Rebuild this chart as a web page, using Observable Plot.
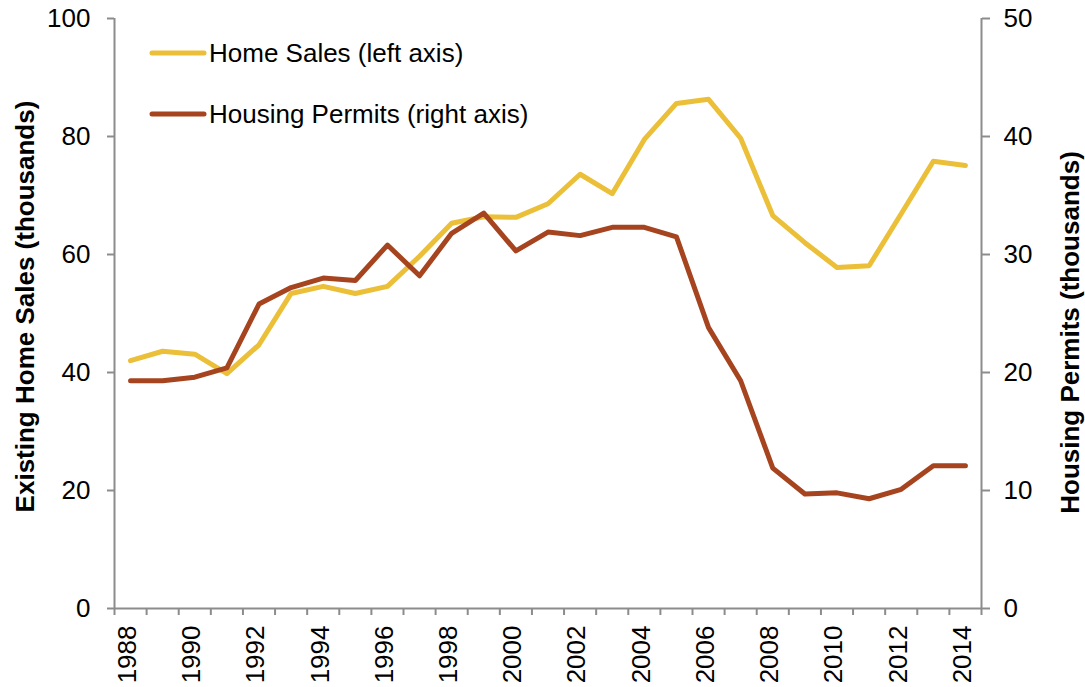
<!DOCTYPE html>
<html>
<head>
<meta charset="utf-8">
<script src="https://cdn.jsdelivr.net/npm/d3@7"></script>
<script src="https://cdn.jsdelivr.net/npm/@observablehq/plot@0.6"></script>
<style>
  html, body { margin: 0; padding: 0; background: #fff; }
  #wrap { position: relative; width: 1085px; height: 687px; font-family: "Liberation Sans", Arial, sans-serif; }
  #legend { position: absolute; left: 0; top: 0; pointer-events: none; }
</style>
</head>
<body>
<div id="wrap"></div>
<script>
// ---- Data ----
const years = [1988,1989,1990,1991,1992,1993,1994,1995,1996,1997,1998,1999,2000,2001,2002,2003,2004,2005,2006,2007,2008,2009,2010,2011,2012,2013,2014];
const homeSales = [42.0,43.6,43.1,39.8,44.7,53.4,54.6,53.4,54.6,59.7,65.3,66.4,66.3,68.6,73.6,70.3,79.5,85.6,86.3,79.7,66.6,62.0,57.8,58.1,66.9,75.8,75.1];
const housingPermits = [19.3,19.3,19.6,20.4,25.8,27.2,28.0,27.8,30.8,28.2,31.8,33.5,30.3,31.9,31.6,32.3,32.3,31.5,23.8,19.3,11.9,9.7,9.8,9.3,10.1,12.1,12.1];
const leftTicks = [0,20,40,60,80,100];
const rightTicks = [0,10,20,30,40,50];
const labelYears = [1988,1990,1992,1994,1996,1998,2000,2002,2004,2006,2008,2010,2012,2014];
const seriesNames = ["Home Sales (left axis)", "Housing Permits (right axis)"];
const seriesColors = ["#EBBF38", "#A6441F"];
const leftTitle = "Existing Home Sales (thousands)";
const rightTitle = "Housing Permits (thousands)";

// ---- Build table ----
const ratio = d3.max(leftTicks) / d3.max(rightTicks);
const rows = years.map((y, i) => ({year: y, sales: homeSales[i], permits: housingPermits[i]}));
const x0 = d3.min(years) - 0.5, x1 = d3.max(years) + 0.5;
const boundaries = d3.range(x0, x1 + 0.01, 1);
const gray = "#8C8C8C";

const chart = Plot.plot({
  width: 1085,
  height: 687,
  marginLeft: 114,
  marginRight: 104,
  marginTop: 18,
  marginBottom: 79,
  style: {fontFamily: "'Liberation Sans', Arial, sans-serif", fontSize: "26px", color: "#000", background: "#fff", overflow: "visible"},
  x: {domain: [x0, x1], axis: null},
  y: {domain: [d3.min(leftTicks), d3.max(leftTicks)], axis: null},
  marks: [
    // axis lines
    Plot.ruleX([x0, x1], {stroke: gray, strokeWidth: 2}),
    Plot.ruleY([0], {stroke: gray, strokeWidth: 2}),
    // left axis
    Plot.axisY({anchor: "left", ticks: leftTicks, tickSize: 7, tickPadding: 17, stroke: gray, strokeWidth: 2, fill: "#000", fontSize: 26, label: null}),
    // right axis
    Plot.axisY({anchor: "right", ticks: rightTicks.map(t => t * ratio), tickFormat: d => d / ratio, tickSize: 8, tickPadding: 14, stroke: gray, strokeWidth: 2, fill: "#000", fontSize: 26, label: null}),
    // x boundary ticks
    Plot.axisX({ticks: boundaries, tickFormat: () => "", tickSize: 7, stroke: gray, strokeWidth: 2, label: null}),
    // x labels
    Plot.text(labelYears, {x: d => d, text: d => String(d), frameAnchor: "bottom", rotate: -90, textAnchor: "end", lineAnchor: "middle", dy: 17, dx: -3, fontSize: 26, fill: "#000"}),
    // axis titles
    Plot.text([leftTitle], {frameAnchor: "left", rotate: -90, textAnchor: "middle", lineAnchor: "middle", dx: -89, dy: -7, fontSize: 26, fontWeight: "bold", fill: "#000"}),
    Plot.text([rightTitle], {frameAnchor: "right", rotate: -90, textAnchor: "middle", lineAnchor: "middle", dx: 89, dy: 19, fontSize: 26, fontWeight: "bold", fill: "#000"}),
    // series
    Plot.line(rows, {x: "year", y: "sales", stroke: seriesColors[0], strokeWidth: 5, strokeLinejoin: "round", strokeLinecap: "round"}),
    Plot.line(rows, {x: "year", y: d => d.permits * ratio, stroke: seriesColors[1], strokeWidth: 5, strokeLinejoin: "round", strokeLinecap: "round"})
  ]
});

const wrap = document.getElementById("wrap");
wrap.appendChild(chart);

// ---- Legend overlay ----
const ns = "http://www.w3.org/2000/svg";
const leg = document.createElementNS(ns, "svg");
leg.setAttribute("id", "legend");
leg.setAttribute("width", 600);
leg.setAttribute("height", 150);
const legY = [53, 114];
seriesNames.forEach((name, i) => {
  const l = document.createElementNS(ns, "line");
  l.setAttribute("x1", 152); l.setAttribute("x2", 204);
  l.setAttribute("y1", legY[i]); l.setAttribute("y2", legY[i]);
  l.setAttribute("stroke", seriesColors[i]);
  l.setAttribute("stroke-width", 5);
  l.setAttribute("stroke-linecap", "round");
  leg.appendChild(l);
  const t = document.createElementNS(ns, "text");
  t.setAttribute("x", 209);
  t.setAttribute("y", legY[i] + 9);
  t.setAttribute("font-size", 26);
  t.setAttribute("font-family", "'Liberation Sans', Arial, sans-serif");
  t.setAttribute("fill", "#000");
  t.textContent = name;
  leg.appendChild(t);
});
wrap.appendChild(leg);
</script>
</body>
</html>
